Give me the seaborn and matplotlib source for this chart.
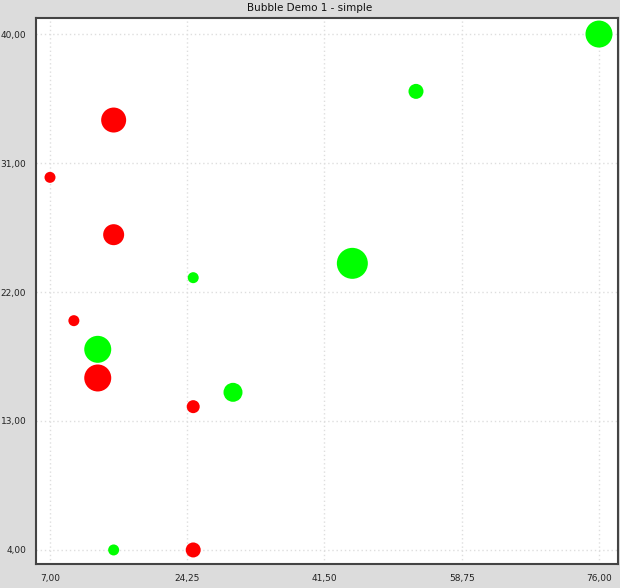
import pandas as pd
import matplotlib.pyplot as plt
import seaborn as sns

# Series values
red_x = [15, 7, 15, 10, 13, 25, 25]
red_y = [34, 30, 26, 20, 16, 14, 4]
red_size = [25, 11, 21, 11, 27, 13, 15]  # bubble diameter in px

green_x = [76, 53, 45, 25, 13, 30, 15]
green_y = [40, 36, 24, 23, 18, 15, 4]
green_size = [27, 15, 31, 11, 27, 19, 11]

x_ticks = [7.0, 24.25, 41.5, 58.75, 76.0]
y_ticks = [4.0, 13.0, 22.0, 31.0, 40.0]

red = pd.DataFrame({"x": red_x, "y": red_y, "d": red_size})
green = pd.DataFrame({"x": green_x, "y": green_y, "d": green_size})

sns.set_style("white")
plt.rcParams["font.family"] = ["DejaVu Sans"]

fig = plt.figure(figsize=(6.2, 5.88), dpi=100, facecolor="#dcdcdc")
ax = fig.add_axes([36 / 620, 1 - 564 / 588, 582 / 620, 546 / 588])
ax.set_facecolor("white")

# diameter px -> area in pt^2 at 100 dpi
for df, color in [(red, "#ff0000"), (green, "#00ff00")]:
    sns.scatterplot(data=df, x="x", y="y", s=(df["d"] * 0.72) ** 2,
                    color=color, edgecolor="none", ax=ax, zorder=3)

ax.set_xlim(5.24, 78.39)
ax.set_ylim(3.02, 41.12)
ax.set_xticks(x_ticks)
ax.set_yticks(y_ticks)
ax.set_xticklabels([f"{v:.2f}".replace(".", ",") for v in x_ticks])
ax.set_yticklabels([f"{v:.2f}".replace(".", ",") for v in y_ticks])
ax.tick_params(axis="both", labelsize=6.5, length=4, width=1.5,
               color="#555555", direction="out", pad=3, labelcolor="#222222")
ax.grid(True, color="#dedede", linestyle=(0, (1, 2)), linewidth=1)
ax.set_axisbelow(True)
for side in ax.spines.values():
    side.set_color("#444444")
    side.set_linewidth(1.5)
ax.set_xlabel("")
ax.set_ylabel("")

fig.suptitle("Bubble Demo 1 - simple", x=0.5, y=1 - 8 / 588, va="center",
             fontsize=7.5, color="#111111")

fig.savefig("out.png", dpi=100, facecolor=fig.get_facecolor())
